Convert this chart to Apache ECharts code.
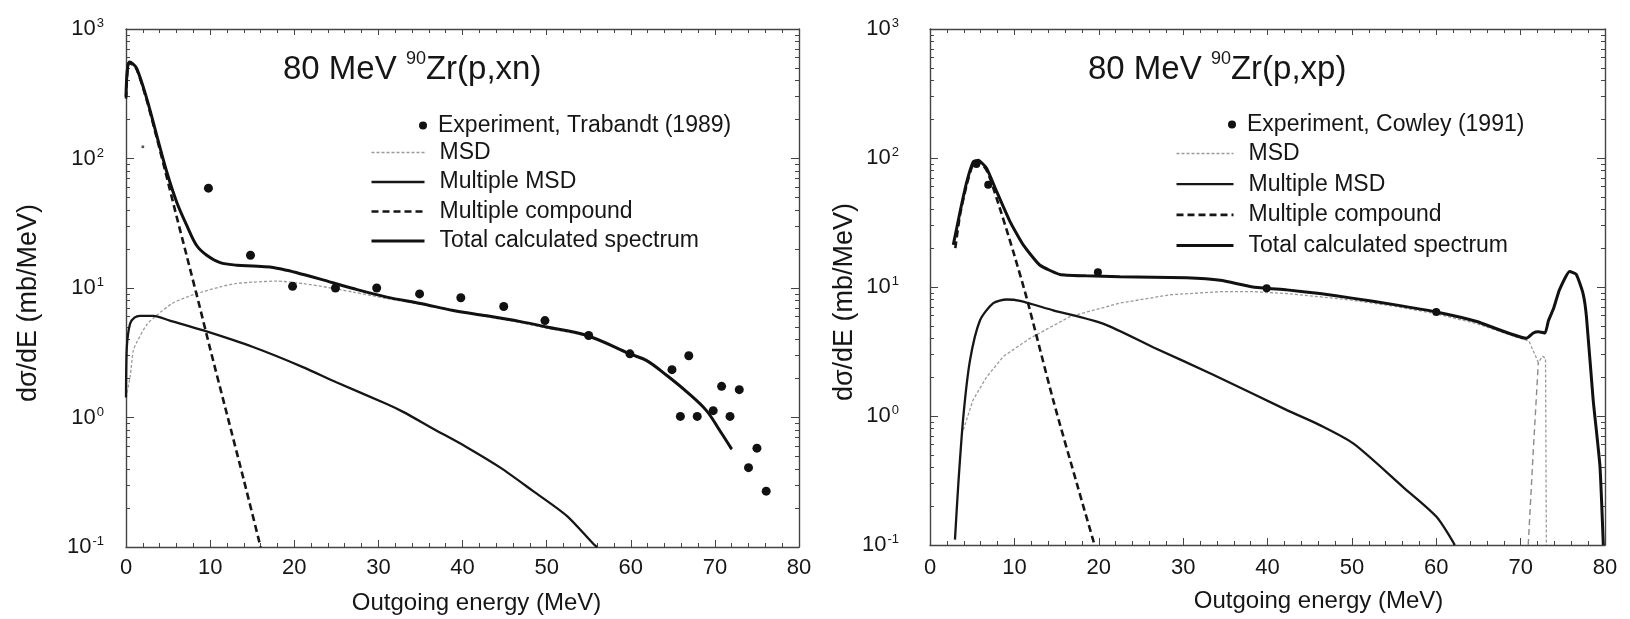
<!DOCTYPE html>
<html>
<head>
<meta charset="utf-8">
<title>80 MeV 90Zr(p,xn) and (p,xp) spectra</title>
<script src="https://cdn.jsdelivr.net/npm/echarts@6/dist/echarts.min.js"></script>
<style>
  html, body { margin: 0; padding: 0; background: #fff; }
  #chart { width: 1630px; height: 619px; }
</style>
</head>
<body>
<div id="chart"></div>
<script>
  // ---- data: [outgoing energy (MeV), dσ/dE (mb/MeV)] ----

  // left panel: 90Zr(p,xn)
  const xnExperiment = [
    [9.8, 59], [14.8, 17.9], [19.8, 10.3], [24.9, 10.0], [29.8, 10.0], [34.9, 9.0],
    [39.8, 8.4], [44.9, 7.2], [49.8, 5.6], [55, 4.3], [59.9, 3.1], [64.9, 2.34],
    [65.9, 1.02], [66.9, 3.0], [67.9, 1.02], [69.8, 1.13], [70.8, 1.74], [71.8, 1.02],
    [72.9, 1.64], [74, 0.41], [75, 0.58], [76.1, 0.27]
  ];
  const xnExperimentFaint = [[2.0, 123]];
  const xnMsd = [
    [0, 1.43], [0.48, 2.05], [0.87, 3.3], [1.27, 3.8], [2.46, 5.2], [3.7, 6.2], [5.5, 7.6],
    [7.2, 8.5], [9, 9.3], [11.2, 10.2], [13, 10.8], [15.1, 11.1], [17.9, 11.3], [21.1, 10.8],
    [24, 10.1], [27, 9.3], [31, 8.3], [35, 7.5], [38.9, 6.8], [42.9, 6.0], [46.9, 5.4],
    [50, 4.9], [55, 4.2], [60, 3.05], [62, 2.7], [64.3, 2.08], [66.7, 1.55], [69, 1.12],
    [70.6, 0.78], [72, 0.56]
  ];
  const xnMultipleMsd = [
    [0, 1.43], [0.1, 3.5], [0.48, 5.3], [1.0, 5.9], [1.66, 6.1], [3.25, 6.1], [5.2, 5.6],
    [9.2, 4.7], [15.1, 3.5], [21.1, 2.44], [25, 1.87], [31, 1.27], [33, 1.1], [36.5, 0.82],
    [40.5, 0.59], [44.5, 0.41], [48.4, 0.27], [52.4, 0.174], [55.6, 0.105], [56, 0.1]
  ];
  const xnCompound = [
    [0, 290], [0.3, 545], [0.6, 540], [1.27, 488], [2.46, 283], [3.65, 145], [4.84, 72],
    [6, 36], [7.2, 17.9], [8.8, 7.0], [10, 3.4], [12, 1.06], [14, 0.33], [16, 0.1]
  ];
  const xnTotal = [
    [0, 300], [0.15, 480], [0.4, 556], [0.7, 545], [1.27, 497], [2.46, 291], [3.65, 151],
    [4.84, 79], [6.03, 46], [7.22, 30.5], [8.4, 21.3], [9.6, 17.9], [11.2, 15.7], [13.2, 15.0],
    [15.1, 14.8], [17.1, 14.5], [19.1, 13.7], [21.1, 12.7], [23.1, 11.7], [27, 9.9], [31, 8.5],
    [35, 7.6], [38.9, 6.7], [42.9, 6.1], [46.9, 5.5], [50, 5.0], [54.8, 4.3], [59.9, 3.1],
    [61.9, 2.75], [64.3, 2.11], [66.7, 1.57], [69, 1.13], [70.6, 0.79], [72, 0.57]
  ];

  // right panel: 90Zr(p,xp)
  const xpExperiment = [[5.5, 90], [6.9, 62], [19.9, 13.0], [39.9, 9.8], [60, 6.4]];
  const xpMsd = [
    [3.95, 0.78], [5.1, 1.33], [6.7, 2.0], [8.7, 2.9], [11.85, 4.0], [16.6, 5.9], [22.5, 7.5],
    [28.4, 8.7], [34.4, 9.2], [38.3, 9.2], [42.3, 8.9], [46.2, 8.4], [50, 7.9], [55, 7.1],
    [60, 6.2], [64.8, 5.2], [69, 4.2], [71, 3.8], [72.1, 2.6], [72.6, 2.9], [72.95, 2.8], [73.05, 0.1]
  ];
  const xpMsdEdge = [[70.9, 0.1], [71.5, 0.54], [72.1, 2.6]];
  const xpMultipleMsd = [
    [2.96, 0.11], [3.36, 0.30], [3.95, 0.99], [4.74, 2.7], [5.92, 5.5], [7.5, 7.5], [9.09, 8.0],
    [10.66, 7.8], [14.6, 6.6], [20.5, 5.2], [26.5, 3.4], [33.5, 2.1], [42.3, 1.11], [46.2, 0.85],
    [50.2, 0.61], [56.1, 0.28], [60, 0.166], [62.2, 0.1]
  ];
  const xpCompound = [
    [3.0, 20], [3.55, 36], [4.35, 62], [5.13, 90], [5.72, 93], [6.72, 80], [7.9, 48.7],
    [9.87, 18.8], [11.46, 8.2], [14.6, 1.33], [17.4, 0.30], [19.5, 0.1]
  ];
  const xpTotal = [
    [2.76, 21.2], [3.55, 38], [4.35, 65], [5.13, 93.5], [5.72, 96], [6.72, 83], [7.9, 55],
    [9.5, 32], [11.05, 21.2], [13, 14.8], [15.4, 12.5], [18.5, 12.2], [22.5, 12.0], [30.4, 11.8],
    [34.4, 11.3], [38.3, 10.0], [42.3, 9.5], [46.2, 8.9], [50, 8.2], [55, 7.3], [60, 6.4],
    [64.8, 5.4], [70.7, 4.0], [71.5, 4.4], [72.1, 4.5], [72.9, 4.4], [73.3, 5.5], [73.9, 6.8],
    [74.6, 9.5], [75.8, 13.2], [76.6, 12.5], [77.4, 8.9], [77.8, 5.9], [78.6, 1.33],
    [79.4, 0.41], [79.8, 0.1]
  ];

  // axis ticks
  const energyTicks = [0, 10, 20, 30, 40, 50, 60, 70, 80];
  const logMinorTicks = [];
  [0.1, 1, 10, 100].forEach((decade) => {
    for (let m = 2; m <= 9; m++) logMinorTicks.push(+(m * decade).toPrecision(3));
  });

  const FONT = 'Liberation Sans, Arial, Helvetica, sans-serif';
  const INK = '#161616';
  const FRAME = '#444';
  // trailing no-break spaces push the rotated name a bit lower, like the scan
  const Y_NAME = 'dσ/dE (mb/MeV)\u00a0\u00a0\u00a0\u00a0';

  const chart = echarts.init(document.getElementById('chart'), null, { renderer: 'canvas' });

  const grids = [
    { left: 126, right: 831, top: 29, bottom: 72, outerBoundsMode: 'none' },
    { left: 930, right: 25, top: 29, bottom: 74, outerBoundsMode: 'none' }
  ];

  // bottom axis (labels, name) + top mirror axis
  const makeXAxes = (gridIndex, labelMargin, namePad) => [
    {
      gridIndex, type: 'value', position: 'bottom', min: 0, max: 80, interval: 10,
      name: 'Outgoing energy (MeV)', nameLocation: 'middle', nameGap: 44,
      nameTextStyle: { fontFamily: FONT, fontSize: 24, color: INK, padding: [0, 0, 0, namePad] },
      axisLine: { show: true, lineStyle: { color: FRAME, width: 1.4 } },
      axisTick: { show: true, inside: true, length: 7, lineStyle: { color: FRAME } },
      minorTick: { show: true, splitNumber: 5, length: 4, lineStyle: { color: FRAME } },
      axisLabel: {
        margin: labelMargin, fontFamily: FONT, fontSize: 22, color: INK,
        customValues: energyTicks
      },
      splitLine: { show: false }
    },
    {
      gridIndex, type: 'value', position: 'top', min: 0, max: 80, interval: 10,
      axisLine: { show: true, lineStyle: { color: FRAME, width: 1.4 } },
      axisTick: { show: true, inside: true, length: 6, lineStyle: { color: FRAME } },
      minorTick: { show: true, splitNumber: 5, length: 4, lineStyle: { color: FRAME } },
      axisLabel: { show: false },
      splitLine: { show: false }
    }
  ];

  const decadeLabel = (v) => '{b|10}{e|' + Math.round(Math.log10(v)) + '}';

  // main log axis (labels, name) + minor ticks + right-side mirror
  const makeYAxes = (gridIndex, labelMargin, nameGap) => {
    const base = { gridIndex, type: 'log', logBase: 10, min: 0.1, max: 1000, splitLine: { show: false } };
    return [
      {
        ...base, position: 'left',
        name: Y_NAME, nameLocation: 'middle', nameGap,
        nameTextStyle: { fontFamily: FONT, fontSize: 27, color: INK },
        axisLine: { show: true, lineStyle: { color: FRAME, width: 1.4 } },
        axisTick: { show: true, inside: true, length: 8, lineStyle: { color: FRAME } },
        axisLabel: {
          margin: labelMargin, formatter: decadeLabel,
          rich: {
            b: { fontFamily: FONT, fontSize: 22, color: INK, lineHeight: 24, verticalAlign: 'middle' },
            e: { fontFamily: FONT, fontSize: 13, color: INK, verticalAlign: 'top', padding: [0, 0, 0, 1] }
          }
        }
      },
      {
        ...base, position: 'left',
        axisLine: { show: false },
        axisTick: { show: true, inside: true, length: 4, customValues: logMinorTicks, lineStyle: { color: FRAME } },
        axisLabel: { show: false }
      },
      {
        ...base, position: 'right',
        axisLine: { show: true, lineStyle: { color: FRAME, width: 1.4 } },
        axisTick: { show: true, inside: true, length: 8, lineStyle: { color: FRAME } },
        axisLabel: { show: false }
      },
      {
        ...base, position: 'right',
        axisLine: { show: false },
        axisTick: { show: true, inside: true, length: 4, customValues: logMinorTicks, lineStyle: { color: FRAME } },
        axisLabel: { show: false }
      }
    ];
  };

  const lineSeries = (name, data, xi, yi, style, z, smooth = 0.25) => ({
    name, type: 'line', data, xAxisIndex: xi, yAxisIndex: yi,
    symbol: 'none', smooth, z,
    lineStyle: style, itemStyle: { color: style.color }, silent: true
  });

  const msdStyle = { color: '#9a9a9a', width: 1.3, type: [3, 2] };
  const multiMsdStyle = { color: '#161616', width: 2.3 };
  const compoundStyle = { color: '#161616', width: 2.6, type: [7, 4] };
  const totalStyle = { color: '#111', width: 3 };

  const series = [
    // left panel
    lineSeries('MSD', xnMsd, 0, 0, msdStyle, 2),
    lineSeries('Multiple MSD', xnMultipleMsd, 0, 0, multiMsdStyle, 3),
    lineSeries('Multiple compound', xnCompound, 0, 0, compoundStyle, 4),
    lineSeries('Total calculated spectrum', xnTotal, 0, 0, totalStyle, 5, 0.35),
    {
      name: 'Experiment, Trabandt (1989)', type: 'scatter', data: xnExperiment,
      xAxisIndex: 0, yAxisIndex: 0, symbol: 'circle', symbolSize: 9, z: 6,
      itemStyle: { color: '#111', opacity: 1 }
    },
    {
      name: 'faint', type: 'scatter', data: xnExperimentFaint,
      xAxisIndex: 0, yAxisIndex: 0, symbol: 'circle', symbolSize: 3, z: 6,
      itemStyle: { color: '#555', opacity: 1 }
    },
    // right panel
    lineSeries('MSD', xpMsd, 2, 4, msdStyle, 2, false),
    lineSeries('MSD edge', xpMsdEdge, 2, 4, { color: '#8a8a8a', width: 1.4, type: [6, 4] }, 2, false),
    lineSeries('Multiple MSD', xpMultipleMsd, 2, 4, multiMsdStyle, 3),
    lineSeries('Multiple compound', xpCompound, 2, 4, compoundStyle, 4),
    lineSeries('Total calculated spectrum', xpTotal, 2, 4, totalStyle, 5, 0.15),
    {
      name: 'Experiment, Cowley (1991)', type: 'scatter', data: xpExperiment,
      xAxisIndex: 2, yAxisIndex: 4, symbol: 'circle', symbolSize: 8, z: 6,
      itemStyle: { color: '#111', opacity: 1 }
    }
  ];

  const legendText = (pad) => ({
    fontFamily: FONT, fontSize: 23, color: INK, lineHeight: 22, padding: [0, 0, 0, pad]
  });
  const lineNames = ['MSD', 'Multiple MSD', 'Multiple compound', 'Total calculated spectrum'];
  const hiddenMarker = { color: 'rgba(0,0,0,0)', borderWidth: 0, opacity: 0 };

  const legends = [
    {
      data: ['Experiment, Trabandt (1989)'], left: 419, top: 114, orient: 'vertical', padding: 0,
      itemWidth: 8, itemHeight: 8, selectedMode: false, textStyle: legendText(6)
    },
    {
      data: lineNames, left: 370, top: 141, orient: 'vertical', padding: 0,
      itemWidth: 53, itemHeight: 12, itemGap: 6.5, selectedMode: false, textStyle: legendText(10),
      itemStyle: hiddenMarker, lineStyle: { width: 'inherit' }
    },
    {
      data: ['Experiment, Cowley (1991)'], left: 1228, top: 113, orient: 'vertical', padding: 0,
      itemWidth: 8, itemHeight: 8, selectedMode: false, textStyle: legendText(6)
    },
    {
      data: lineNames, left: 1175, top: 142, orient: 'vertical', padding: 0,
      itemWidth: 57, itemHeight: 12, itemGap: 7.7, selectedMode: false, textStyle: legendText(10),
      itemStyle: hiddenMarker, lineStyle: { width: 'inherit' }
    }
  ];

  const titleRich = {
    a: { fontFamily: FONT, fontSize: 33, fontWeight: 'normal', color: INK, lineHeight: 36, verticalAlign: 'bottom' },
    s: { fontFamily: FONT, fontSize: 18, fontWeight: 'normal', color: INK, verticalAlign: 'top' }
  };

  chart.setOption({
    animation: false,
    backgroundColor: '#fff',
    textStyle: { fontFamily: FONT },
    grid: grids,
    title: [
      { text: '{a|80 MeV }{s|90}{a|Zr(p,xn)}', left: 283, top: 50, padding: 0, textStyle: { fontWeight: 'normal', rich: titleRich } },
      { text: '{a|80 MeV }{s|90}{a|Zr(p,xp)}', left: 1088, top: 50, padding: 0, textStyle: { fontWeight: 'normal', rich: titleRich } }
    ],
    legend: legends,
    tooltip: { show: false },
    xAxis: [...makeXAxes(0, 10, 28), ...makeXAxes(1, 12, 102)],
    yAxis: [...makeYAxes(0, 22, 84), ...makeYAxes(1, 31, 70)],
    series
  });
</script>
</body>
</html>
